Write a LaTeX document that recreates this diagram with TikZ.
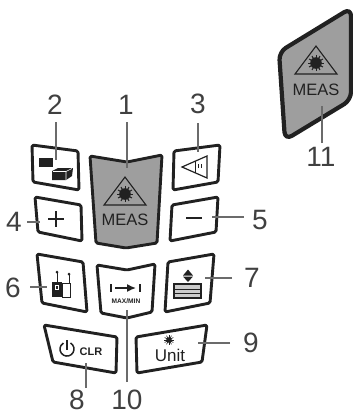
\documentclass[tikz,border=0pt]{standalone}
\usetikzlibrary{arrows.meta}
\usepackage{fontspec}
\setmainfont{Liberation Sans}
\definecolor{ink}{gray}{0.13}
\definecolor{lab}{gray}{0.25}
\definecolor{lead}{gray}{0.42}
\definecolor{fillg}{gray}{0.62}
\tikzset{
  btn/.style={draw=ink,line width=2.9pt,line join=round,rounded corners=1.5pt},
  num/.style={text=lab,font=\fontsize{28}{28}\selectfont,inner sep=0pt},
  leadline/.style={draw=lead,line width=1.3pt},
  gly/.style={draw=ink,line width=1.2pt,line join=miter},
  tx/.style={text=ink,inner sep=0pt}
}
\newcommand{\lasersym}[2]{%
  \begin{scope}[shift={(#1,#2)}]
    \draw[gly,line width=1.1pt] (0,-21) -- (21,7) -- (-21,7) -- cycle;
    \fill[ink] (0,-4) circle (5.8);
    \foreach \a in {0,30,...,330} \draw[ink,line width=1pt] (0,-4) -- ++(\a:8);
  \end{scope}}
\begin{document}
\begin{tikzpicture}[x=1pt,y=-1pt]
\useasboundingbox (0,0) rectangle (353,413);
% buttons
\draw[btn,fill=fillg] (90,156) -- (127,162) -- (162,155) -- (157,243) -- (126,248) -- (96,243) -- cycle;
\draw[btn] (32,145) -- (78,151) -- (79,190) -- (33,182) -- cycle;
\draw[btn] (174,151) -- (220,145) -- (218,182) -- (173,190) -- cycle;
\draw[btn] (35,197) -- (81,205) -- (82,241) -- (38,232) -- cycle;
\draw[btn] (172,205) -- (218,197) -- (216,232) -- (170,241) -- cycle;
\draw[btn] (37,254) -- (83,262) -- (87,312) -- (42,303) -- cycle;
\draw[btn] (97,265) -- (127,270) -- (155,264) -- (152,312) -- (127,318) -- (101,313) -- cycle;
\draw[btn] (168,262) -- (214,254) -- (210,303) -- (165,312) -- cycle;
\draw[btn] (44,325) -- (117,337) -- (116,373) -- (53,362) -- cycle;
\draw[btn] (136,337) -- (207,325) -- (202,362) -- (137,373) -- cycle;
\draw[btn,fill=fillg,line width=4.2pt,rounded corners=8pt] (279,52) -- (351,8) -- (351,100) -- (285,140) -- cycle;
% MEAS button glyphs
\lasersym{125}{198}
\node[tx,font=\fontsize{16.5}{16.5}\selectfont] (measa) at (125,220) {MEAS};
\lasersym{316}{67}
\node[tx,font=\fontsize{16.5}{16.5}\selectfont] (measb) at (316,90) {MEAS};
% button 2 glyph
\fill[ink] (39,158) rectangle (53,167);
\fill[ink] (52,171) -- (58,168) -- (73,168) -- (72,176) -- (66,180) -- (52,180) -- cycle;
\draw[white,line width=.6pt] (53,171.5) -- (66,171.5) -- (72,168.5) (66,171.5) -- (66,180);
% button 3 glyph
\draw[gly] (182,167) -- (207,156) -- (207,178) -- cycle;
\draw[gly,line width=.9pt] (195,161) -- (195,173);
\draw[gly,line width=.9pt] (198,164) -- (198,168) (201,164) -- (201,168);
% plus, minus
\draw[ink,line width=2pt] (56,211) -- (56,227) (48,219) -- (64,219);
\draw[ink,line width=2pt] (186,218) -- (202,218);
% button 6 glyph
\fill[ink] (52,282) rectangle (62,297);
\draw[gly,line width=1pt] (62,283) rectangle (70,297);
\draw[white,line width=.8pt] (55,285) rectangle (58,289);
\draw[gly,line width=.8pt] (57,283) -- (57,272) (69,283) -- (69,274);
\fill[ink] (57,272) circle (1.5) (69,274) circle (1.5);
% button 10 glyph
\draw[ink,line width=1.3pt] (111,284) -- (111,292) (140,284) -- (140,292);
\draw[ink,line width=1.5pt,-{Latex[length=9pt,width=8pt]}] (115,288) -- (136,288);
\node[tx,font=\bfseries\fontsize{6.6}{6.6}\selectfont] (maxmin) at (126,301.5) {MAX/MIN};
% button 7 glyph
\fill[ink] (183,275.5) -- (188,269.5) -- (193,275.5) -- cycle;
\fill[ink] (183,276.5) -- (193,276.5) -- (188,282) -- cycle;
\draw[gly,line width=1.1pt,fill=gray!40] (174,284) rectangle (201,298);
\draw[gly,line width=.9pt] (174,289) -- (201,289) (174,293.5) -- (201,293.5);
% button 8 glyph
\draw[ink,line width=1.5pt] (70.5,343) arc[start angle=-60,end angle=240,radius=7];
\draw[ink,line width=1.5pt] (67,340) -- (67,350);
\node[tx,font=\bfseries\fontsize{11}{11}\selectfont] (clr) at (91,352) {CLR};
% button 9 glyph
\node[tx,font=\fontsize{17}{17}\selectfont] (unit) at (170,355) {Unit};
\fill[ink] (169,340) circle (2.8);
\foreach \a in {0,30,...,330} \draw[ink,line width=.6pt] (169,340) -- ++(\a:5);
% labels
\node[num] (n1) at (126,105) {1};
\node[num] (n2) at (55,105) {2};
\node[num] (n3) at (198,104) {3};
\node[num] (n4) at (14,222) {4};
\node[num] (n5) at (260,220) {5};
\node[num] (n6) at (13,288) {6};
\node[num] (n7) at (252,278) {7};
\node[num] (n8) at (77,399.5) {8};
\node[num] (n9) at (251,343) {9};
\node[num] (n10) at (127,399.5) {10};
\node[num] (n11) at (321,157) {11};
% leads
\coordinate (t1) at (127,168);  \coordinate (s1) at (127,122);
\coordinate (t2) at (56,160);   \coordinate (s2) at (56,122);
\coordinate (t3) at (198,152);  \coordinate (s3) at (198,123);
\coordinate (t4) at (40,222);   \coordinate (s4) at (27,222);
\coordinate (t5) at (212,217);  \coordinate (s5) at (244,217);
\coordinate (t6) at (47,287);   \coordinate (s6) at (30,287);
\coordinate (t7) at (205,278);  \coordinate (s7) at (232,278);
\coordinate (t8) at (86,363);   \coordinate (s8) at (86,388);
\coordinate (t9) at (198,343);  \coordinate (s9) at (230,343);
\coordinate (t10) at (127,310); \coordinate (s10) at (127,382);
\coordinate (t11) at (322,106); \coordinate (s11) at (322,143);
\foreach \i in {1,...,11} \draw[leadline] (s\i) -- (t\i);
\end{tikzpicture}
\end{document}
